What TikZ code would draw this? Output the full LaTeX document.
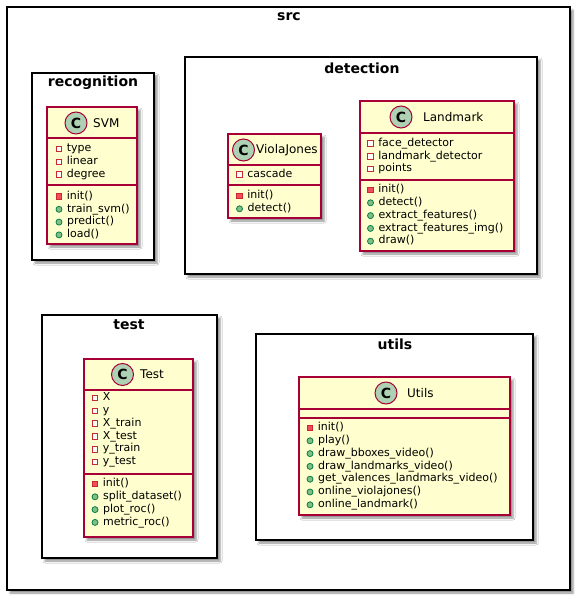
\documentclass[tikz,border=0pt]{standalone}
\usepackage{fontspec}
\setmainfont{DejaVu Sans}
\usetikzlibrary{positioning,shadows.blur}

\definecolor{umlred}{HTML}{A80036}
\definecolor{umlfill}{HTML}{FEFECE}
\definecolor{umlgreen}{HTML}{ADD1B2}
\definecolor{privred}{HTML}{C82930}
\definecolor{privfill}{HTML}{F24D5C}
\definecolor{pubgreen}{HTML}{038048}
\definecolor{pubfill}{HTML}{84BE84}

% icon + member text
\newcommand{\umember}[4]{%
  \node[#1] (#2-i) at (#3) {};
  \node[member, right=of #2-i] (#2) {#4};
}

\begin{document}
\begin{tikzpicture}[x=1pt,y=-1pt,node distance=4.5pt,
  dropshade/.style={blur shadow={shadow xshift=3pt,shadow yshift=-3pt,shadow blur radius=2pt,shadow opacity=45}},
  pkg/.style={draw=black,line width=1.5pt,fill=white,dropshade},
  pkgname/.style={inner sep=0pt,font=\fontsize{14}{16}\selectfont\bfseries},
  cls/.style={draw=umlred,line width=1.5pt,fill=umlfill,dropshade},
  clsline/.style={draw=umlred,line width=1.5pt},
  cicon/.style={circle,draw=umlred,fill=umlgreen,line width=1pt,minimum size=22pt,inner sep=0pt,font=\fontsize{14}{14}\selectfont\bfseries},
  cname/.style={anchor=west,inner sep=0pt,font=\fontsize{12}{14}\selectfont},
  member/.style={inner sep=0pt,text height=8pt,text depth=2.5pt,font=\fontsize{11}{13}\selectfont},
  pfield/.style={rectangle,draw=privred,fill=white,line width=0.8pt,minimum size=5.5pt,inner sep=0pt},
  pmethod/.style={pfield,fill=privfill},
  pubmethod/.style={circle,draw=pubgreen,fill=pubfill,line width=0.8pt,minimum size=6pt,inner sep=0pt}]
\useasboundingbox (0,0) rectangle (580,601);

% packages
\draw[pkg] (7,7) rectangle (570,590);
\node[pkgname] (src) at (289,17) {src};
\draw[pkg] (32,73) rectangle (154,260);
\node[pkgname] (recognition) at (93,83) {recognition};
\draw[pkg] (185,57) rectangle (537,274);
\node[pkgname] (detection) at (362,68) {detection};
\draw[pkg] (42,315) rectangle (217,558);
\node[pkgname] (test) at (129,325) {test};
\draw[pkg] (256,334) rectangle (533,540);
\node[pkgname] (utils) at (395,344) {utils};

% SVM
\draw[cls] (47,107) rectangle (137,244);
\draw[clsline] (47,138) -- (137,138) (47,185) -- (137,185);
\node[cicon] (svm-c) at (76,123) {C};
\node[cname] (svm) at (93,123) {SVM};
\foreach \t [count=\i from 0] in {type,linear,degree}
  {\umember{pfield}{svm-f\i}{59,149+12.8*\i}{\t}}
\umember{pmethod}{svm-init}{59,196.5}{init()}
\foreach \t [count=\i from 1] in {train\_svm(),predict(),load()}
  {\umember{pubmethod}{svm-m\i}{59,196.5+12.8*\i}{\t}}

% ViolaJones
\draw[cls] (228,134) rectangle (321,218);
\draw[clsline] (228,165) -- (321,165) (228,185) -- (321,185);
\node[cicon] (vj-c) at (243.5,150) {C};
\node[cname] (vj) at (256,150) {ViolaJones};
\umember{pfield}{vj-cascade}{239.5,174.5}{cascade}
\umember{pmethod}{vj-init}{239.5,196}{init()}
\umember{pubmethod}{vj-detect}{239.5,208.8}{detect()}

% Landmark
\draw[cls] (360,101) rectangle (514,251);
\draw[clsline] (360,133) -- (514,133) (360,180) -- (514,180);
\node[cicon] (lm-c) at (401,117) {C};
\node[cname] (lm) at (423,117) {Landmark};
\foreach \t [count=\i from 0] in {face\_detector,landmark\_detector,points}
  {\umember{pfield}{lm-f\i}{370.5,143.5+12.8*\i}{\t}}
\umember{pmethod}{lm-init}{370.5,190}{init()}
\foreach \t [count=\i from 1] in {detect(),extract\_features(),extract\_features\_img(),draw()}
  {\umember{pubmethod}{lm-m\i}{370.5,190+12.8*\i}{\t}}

% Test
\draw[cls] (84,359) rectangle (193,537);
\draw[clsline] (84,390) -- (193,390) (84,474) -- (193,474);
\node[cicon] (tst-c) at (122.5,374.5) {C};
\node[cname] (tst) at (140,374.5) {Test};
\foreach \t [count=\i from 0] in {X,y,X\_train,X\_test,y\_train,y\_test}
  {\umember{pfield}{tst-f\i}{95,398+12.8*\i}{\t}}
\umember{pmethod}{tst-init}{95,484}{init()}
\foreach \t [count=\i from 1] in {split\_dataset(),plot\_roc(),metric\_roc()}
  {\umember{pubmethod}{tst-m\i}{95,484+12.8*\i}{\t}}

% Utils
\draw[cls] (299,377) rectangle (510,515);
\draw[clsline] (299,409) -- (510,409) (299,418) -- (510,418);
\node[cicon] (ut-c) at (386,393) {C};
\node[cname] (ut) at (407,393) {Utils};
\umember{pmethod}{ut-init}{310,428}{init()}
\foreach \t [count=\i from 1] in {play(),draw\_bboxes\_video(),draw\_landmarks\_video(),get\_valences\_landmarks\_video(),online\_violajones(),online\_landmark()}
  {\umember{pubmethod}{ut-m\i}{310,428+12.8*\i}{\t}}
\end{tikzpicture}
\end{document}
